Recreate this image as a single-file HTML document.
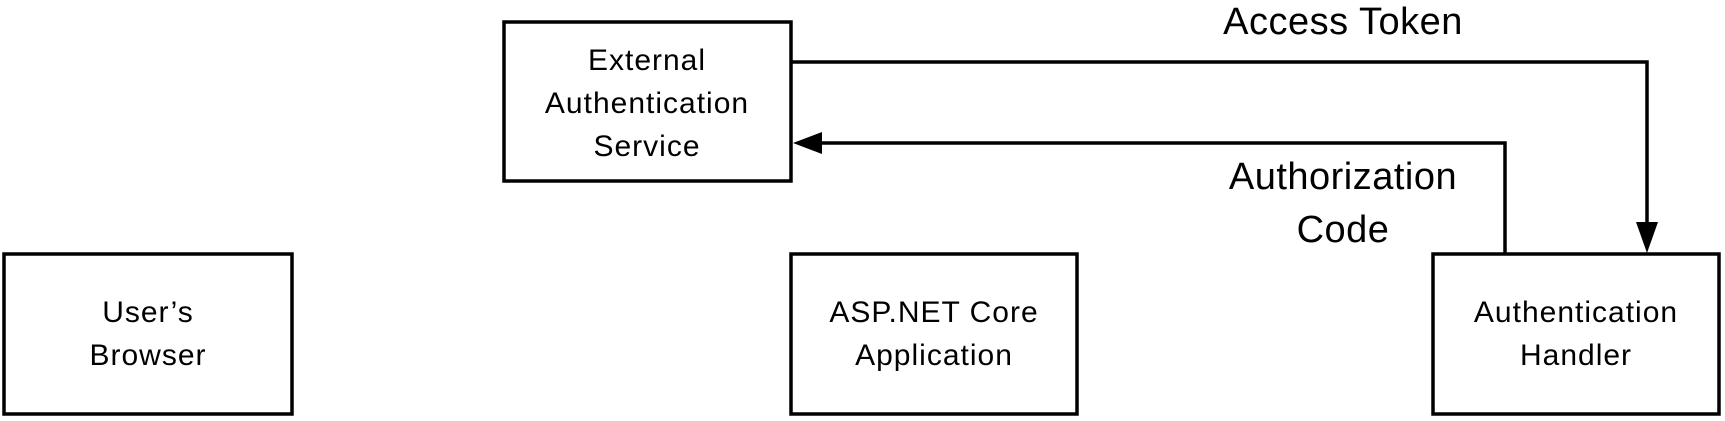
<!DOCTYPE html>
<html><head><meta charset="utf-8"><style>
html,body{margin:0;padding:0;background:#fff;}
svg{display:block;}
text{font-family:"Liberation Sans",sans-serif;fill:#000;}
.b{font-size:30px;letter-spacing:1px;}
.l{font-size:38px;letter-spacing:0.5px;}
</style></head><body>
<svg width="1725" height="421" viewBox="0 0 1725 421" xmlns="http://www.w3.org/2000/svg">
<g fill="none" stroke="#000" stroke-width="3.5">
<rect x="504" y="22" width="287" height="159"/>
<rect x="4" y="254" width="288" height="160"/>
<rect x="791" y="254" width="286" height="160"/>
<rect x="1433" y="254" width="286" height="160"/>
<polyline points="791,62 1647,62 1647,226"/>
<polyline points="1505,254 1505,143 818,143"/>
</g>
<polygon points="1636,222 1658,222 1647,253" fill="#000"/>
<polygon points="793,143 822,132 822,154" fill="#000"/>
<g class="b" text-anchor="middle">
<text x="647" y="70">External</text>
<text x="647" y="113">Authentication</text>
<text x="647" y="156">Service</text>
<text x="148" y="322">User’s</text>
<text x="148" y="365">Browser</text>
<text x="934" y="322">ASP.NET Core</text>
<text x="934" y="365">Application</text>
<text x="1576" y="322">Authentication</text>
<text x="1576" y="365">Handler</text>
</g>
<g class="l" text-anchor="middle">
<text x="1343" y="34">Access Token</text>
<text x="1343" y="189">Authorization</text>
<text x="1343" y="242">Code</text>
</g>
</svg>
</body></html>
